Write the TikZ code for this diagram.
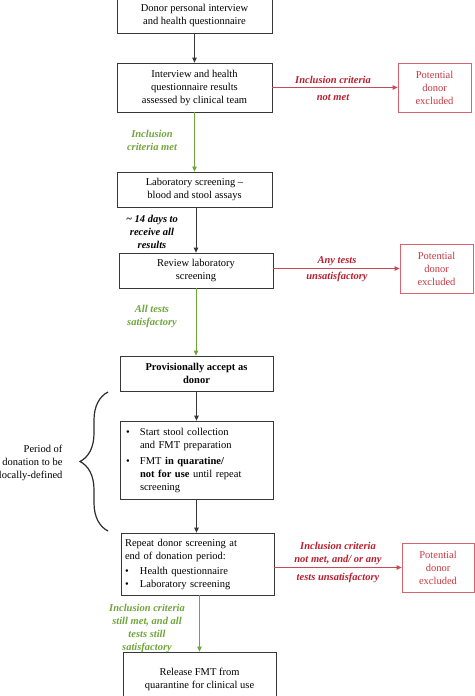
\documentclass[tikz,border=0pt]{standalone}
\usepackage{fontspec}
\setmainfont{Liberation Serif}
\usetikzlibrary{arrows.meta,decorations.pathreplacing}
\definecolor{lred}{RGB}{185,30,45}
\definecolor{bred}{RGB}{215,100,110}
\definecolor{tred}{RGB}{200,55,65}
\definecolor{lgreen}{RGB}{112,165,60}
\definecolor{bgray}{RGB}{55,55,55}
\begin{document}
\begin{tikzpicture}[x=1pt,y=1pt,
  box/.style={draw=bgray, line width=0.8pt, align=center, inner sep=2pt,
    font=\fontsize{10.5}{13}\selectfont},
  exbox/.style={draw=bred, line width=0.8pt, align=center, text=tred,
    minimum width=73, minimum height=49, inner sep=1pt,
    font=\fontsize{10.5}{13}\selectfont},
  arr/.style={-{Triangle[length=5pt,width=4.5pt]}, line width=0.8pt, draw=bgray},
  rarr/.style={arr, draw=bred, color=lred!80},
  garr/.style={arr, draw=lgreen, color=lgreen},
  lab/.style={align=center, font=\fontsize{10.5}{13}\selectfont\bfseries\itshape},
  rlab/.style={lab, text=lred},
  glab/.style={lab, text=lgreen}
]
\useasboundingbox (0,0) rectangle (474,-696);

% main boxes
\node[box, minimum width=155, minimum height=35] (b1) at (194.5,-15.5)
  {Donor personal interview\\and health questionnaire};
\node[box, minimum width=155, minimum height=49] (b2) at (194.5,-87.5)
  {Interview and health\\questionnaire results\\assessed by clinical team};
\node[box, minimum width=155, minimum height=35] (b3) at (194.5,-189.5)
  {Laboratory screening --\\blood and stool assays};
\node[box, minimum width=154, minimum height=35] (b4) at (196,-270.5)
  {Review laboratory\\screening};
\node[box, minimum width=153, minimum height=35, font=\fontsize{10.5}{13}\selectfont\bfseries] (b5) at (196.5,-373.5)
  {Provisionally accept as\\donor};
\node[box, minimum width=153, minimum height=78, text width=141, inner xsep=6pt, align=left] (b6) at (196.5,-460)
  {\begin{tabular}{@{}p{14pt}@{}l@{}}
   \textbullet & Start stool collection\\
               & and FMT preparation\\[3pt]
   \textbullet & FMT \textbf{in quaratine/}\\
               & \textbf{not for use} until repeat\\
               & screening
   \end{tabular}};
\node[box, minimum width=153, minimum height=62, text width=145, inner xsep=4pt, align=left] (b7) at (197.5,-564)
  {\begin{tabular}{@{}p{15pt}@{}l@{}}
   \multicolumn{2}{@{}l@{}}{Repeat donor screening at}\\
   \multicolumn{2}{@{}l@{}}{end of donation period:}\\[2pt]
   \textbullet & Health questionnaire\\
   \textbullet & Laboratory screening
   \end{tabular}};
\node[box, minimum width=153, minimum height=54] (b8) at (199.5,-679)
  {Release FMT from\\quarantine for clinical use};

% exclusion boxes
\node[exbox] (ex1) at (434.5,-87.5) {Potential\\donor\\excluded};
\node[exbox] (ex2) at (436.5,-268.5) {Potential\\donor\\excluded};
\node[exbox, minimum width=72] (ex3) at (438,-567.5) {Potential\\donor\\excluded};

% vertical arrows
\draw[arr] (b1.south) -- (b1.south |- b2.north);
\draw[garr] (b2.south) -- (b2.south |- b3.north);
\draw[arr] (b3.south -| b4.north) -- (b4.north);
\draw[garr] (b4.south) -- (b4.south |- b5.north);
\draw[arr] (b5.south) -- (b5.south |- b6.north);
\draw[arr] (b6.south) -- (b6.south |- b7.north);
\draw[garr] (b7.south -| b8.north) -- (b8.north);

% horizontal arrows
\draw[rarr] (b2.east) -- (ex1.west);
\draw[rarr] (b4.east |- ex2.west) -- (ex2.west);
\draw[rarr] (b7.east |- ex3.west) -- (ex3.west);

% connector labels
\node[rlab] (l1) at (333,-88.5) {Inclusion criteria\\[4pt]not met};
\node[glab] (l2) at (152,-140.5) {Inclusion\\criteria met};
\node[lab] (l3) at (152,-232) {\textasciitilde{} 14 days to\\receive all\\results};
\node[rlab] (l4) at (337,-269) {Any tests\\[3pt]unsatisfactory};
\node[glab] (l5) at (152,-316.5) {All tests\\satisfactory};
\node[rlab] (l6) at (338,-562) {Inclusion criteria\\not met, and/ or any\\[5pt]tests unsatisfactory};
\node[glab] (l7) at (147,-628.5) {Inclusion criteria\\still met, and all\\tests still\\satisfactory};

% brace
\coordinate (brT) at (108,-392);
\coordinate (brB) at (108,-531);
\draw[decorate, decoration={brace, amplitude=28pt, aspect=0.5}, line width=1.2pt, bgray!80!black]
  (brB) -- (brT);
\node[align=right, anchor=east, font=\fontsize{10.5}{13}\selectfont] (per) at (66,-463)
  {Period of\\donation to be\\locally-defined};
\end{tikzpicture}
\end{document}
